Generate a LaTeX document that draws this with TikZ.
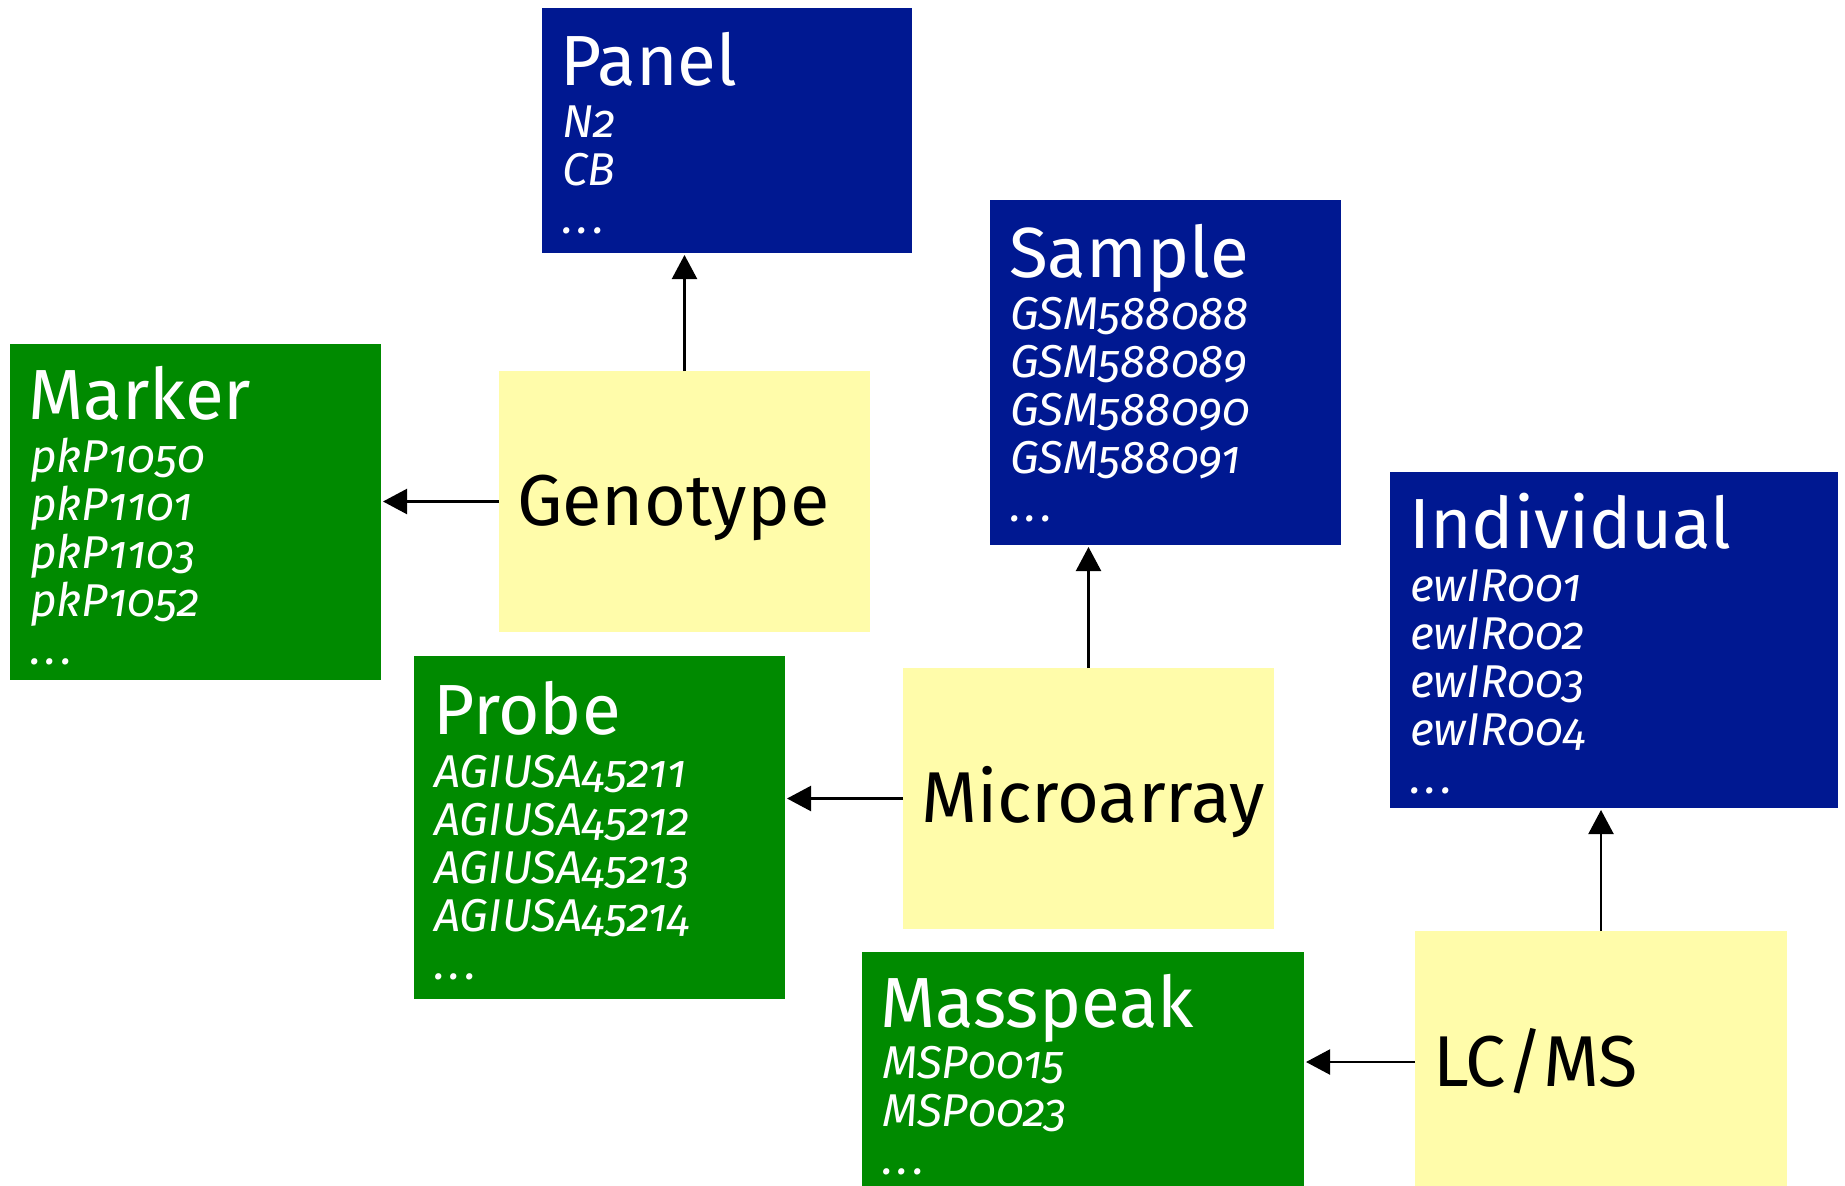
\documentclass[tikz,border=0pt]{standalone}
\usepackage{fontspec}
\setmainfont{Fira Sans}[Numbers=OldStyle]
\usetikzlibrary{arrows.meta,calc}

\definecolor{entblue}{RGB}{0,24,145}
\definecolor{entgreen}{RGB}{0,138,0}
\definecolor{expyellow}{RGB}{255,252,170}

% widely spaced ellipsis closing each list
\newcommand{\moredots}{.\kern4.5pt.\kern4.5pt.}

\tikzset{
  box/.style={anchor=north west, inner sep=0pt, outer sep=0pt, draw=none},
  bluebox/.style={box, fill=entblue},
  greenbox/.style={box, fill=entgreen},
  yellowbox/.style={box, fill=expyellow},
  boxtitle/.style={anchor=base west, inner sep=0pt, text=white,
    font=\fontsize{71}{80}\selectfont},
  % the base of a multi-line node is the baseline of its last line
  boxitems/.style={anchor=base west, inner sep=0pt, text=white, align=left,
    font=\fontsize{46}{48}\selectfont\itshape},
  exptext/.style={anchor=base west, inner sep=0pt, text=black,
    font=\fontsize{72}{80}\selectfont},
  link/.style={line width=2.2pt, -{Triangle[length=24pt,width=25pt]}, shorten >=2pt}
}

\begin{document}
\begin{tikzpicture}[x=1pt, y=-1pt]
\useasboundingbox (0,0) rectangle (1845,1186);

% entity boxes: title, then a list of identifiers
\node[bluebox, minimum width=370, minimum height=245] (panel) at (542,8) {};
\node[boxtitle] (panelT) at ($(panel.north west)+(18,77)$) {Panel};
\node[boxitems] (panelI) at ($(panel.north west)+(20,225)$) {N2\\CB\\\moredots};

\node[greenbox, minimum width=371, minimum height=336] (marker) at (10,344) {};
\node[boxtitle] (markerT) at ($(marker.north west)+(18,75)$) {Marker};
\node[boxitems] (markerI) at ($(marker.north west)+(20,320)$) {pkP1050\\pkP1101\\pkP1103\\pkP1052\\\moredots};

\node[bluebox, minimum width=351, minimum height=345] (sample) at (990,200) {};
\node[boxtitle] (sampleT) at ($(sample.north west)+(19,77)$) {Sample};
\node[boxitems] (sampleI) at ($(sample.north west)+(20,321)$) {GSM588088\\GSM588089\\GSM588090\\GSM588091\\\moredots};

\node[greenbox, minimum width=371, minimum height=343] (probe) at (414,656) {};
\node[boxtitle] (probeT) at ($(probe.north west)+(19,78)$) {Probe};
\node[boxitems] (probeI) at ($(probe.north west)+(20,323)$) {AGIUSA45211\\AGIUSA45212\\AGIUSA45213\\AGIUSA45214\\\moredots};

\node[bluebox, minimum width=448, minimum height=336] (indiv) at (1390,472) {};
\node[boxtitle] (indivT) at ($(indiv.north west)+(19,76)$) {Individual};
\node[boxitems] (indivI) at ($(indiv.north west)+(20,321)$) {ewIR001\\ewIR002\\ewIR003\\ewIR004\\\moredots};

\node[greenbox, minimum width=442, minimum height=260] (masspeak) at (862,952) {};
\node[boxtitle] (masspeakT) at ($(masspeak.north west)+(18,75)$) {Masspeak};
\node[boxitems] (masspeakI) at ($(masspeak.north west)+(20,222)$) {MSP0015\\MSP0023\\\moredots};

% experiment boxes
\node[yellowbox, minimum width=371, minimum height=261] (geno) at (499,371) {};
\node[exptext] (genoT) at ($(geno.west)+(18,24)$) {Genotype};

\node[yellowbox, minimum width=371, minimum height=261] (micro) at (903,668) {};
\node[exptext] (microT) at ($(micro.west)+(18,24)$) {Microarray};

\node[yellowbox, minimum width=372, minimum height=262] (lcms) at (1415,931) {};
\node[exptext] (lcmsT) at ($(lcms.west)+(18,24)$) {LC/MS};

% links from each experiment to the entities it refers to
\draw[link] (geno.north) -- (panel.south -| geno.north);
\draw[link] (geno.west) -- (marker.east |- geno.west);
\draw[link] (micro.north) -- (sample.south -| micro.north);
\draw[link] (micro.west) -- (probe.east |- micro.west);
\draw[link] (lcms.north) -- (indiv.south -| lcms.north);
\draw[link] (lcms.west) -- (masspeak.east |- lcms.west);
\end{tikzpicture}
\end{document}
